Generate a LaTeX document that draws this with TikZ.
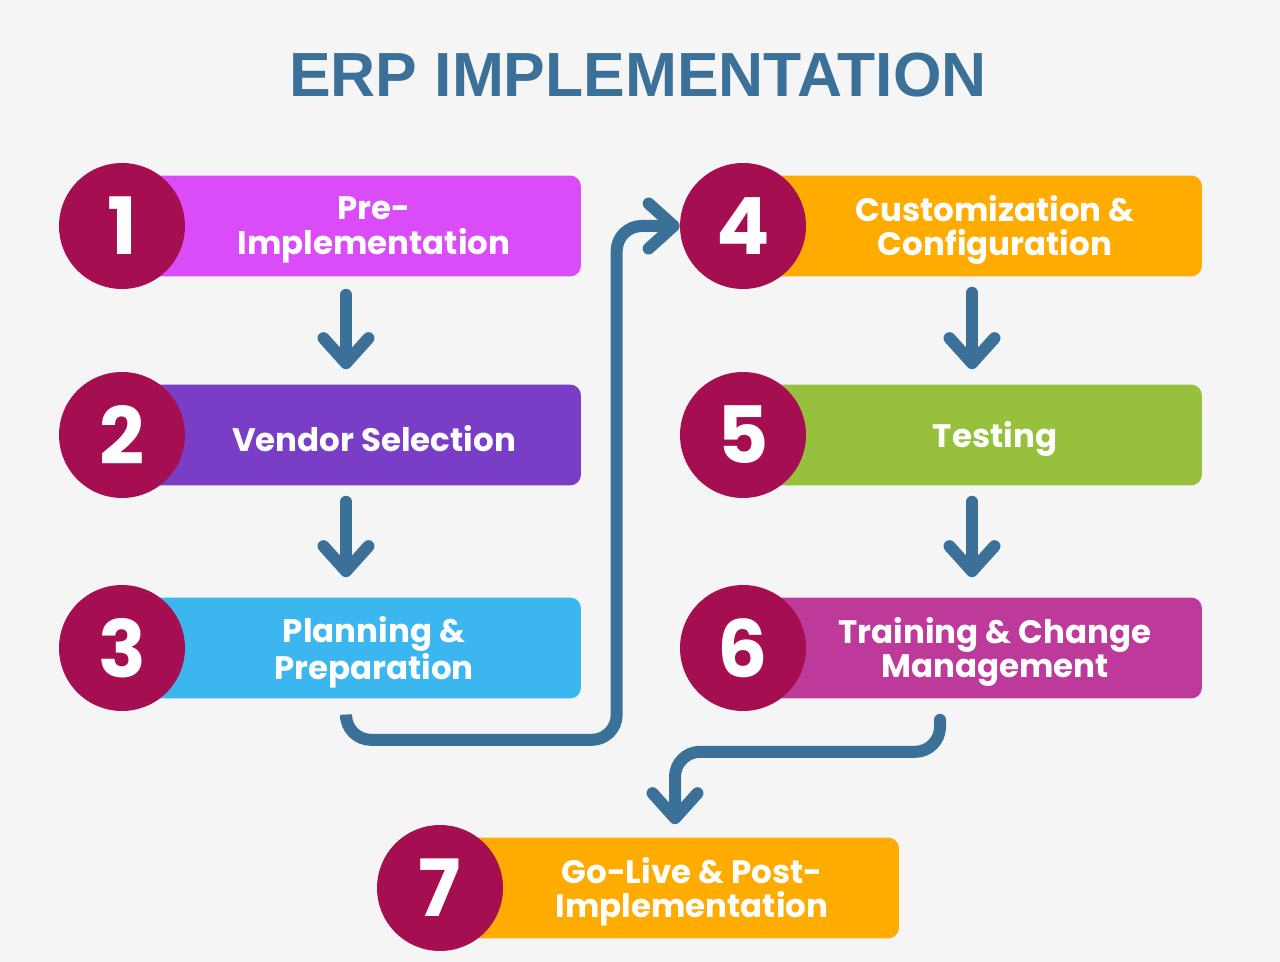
\documentclass[tikz,border=0pt]{standalone}
\usepackage{fontspec}
\setmainfont{Poppins}
\newfontfamily\titlefont{Liberation Sans}
\usetikzlibrary{arrows.meta}

\definecolor{bgc}{HTML}{F5F5F5}
\definecolor{titlec}{HTML}{3B7198}
\definecolor{flowc}{HTML}{3B7198}
\definecolor{numc}{HTML}{A50E50}
\definecolor{c1}{HTML}{DA4CF7}
\definecolor{c2}{HTML}{7A3EC6}
\definecolor{c3}{HTML}{3BB6EE}
\definecolor{c4}{HTML}{FFAB00}
\definecolor{c5}{HTML}{97C13C}
\definecolor{c6}{HTML}{BD3A9A}

\begin{document}
\begin{tikzpicture}[x=0.02cm, y=-0.02cm,
    stepbox/.style={rectangle, rounded corners=0.22cm, minimum width=8.8cm, minimum height=2.02cm},
    steptext/.style={text=white, align=center, xshift=0.26cm, yshift=-0.08cm,
        font=\bfseries\fontsize{18.5}{19.5}\selectfont},
    num/.style={circle, fill=numc, minimum size=2.52cm, inner sep=0pt, text=white,
        font=\bfseries\fontsize{45}{45}\selectfont},
    flow/.style={draw=flowc, line width=0.24cm, line cap=round, rounded corners=0.5cm,
        -{Straight Barb[length=0.5cm,width=0.9cm,round]}}]
    \fill[bgc] (0,0) rectangle (1280,962);
    \useasboundingbox (0,0) rectangle (1280,962);

    \node[text=titlec, font=\titlefont\bfseries\fontsize{35.5}{40}\selectfont] (title) at (638,75) {ERP IMPLEMENTATION};

    % boxes
    \node[stepbox, fill=c1, label={[steptext]center:{Pre-\\Implementation}}] (box1) at (361,226) {};
    \node[stepbox, fill=c2, label={[steptext]center:{Vendor Selection}}] (box2) at (361,435) {};
    \node[stepbox, fill=c3, label={[steptext]center:{Planning \&\\Preparation}}] (box3) at (361,648) {};
    \node[stepbox, fill=c4, label={[steptext]center:{Customization \&\\Configuration}}] (box4) at (982,226) {};
    \node[stepbox, fill=c5, label={[steptext]center:{Testing}}] (box5) at (982,435) {};
    \node[stepbox, fill=c6, label={[steptext]center:{Training \& Change\\Management}}] (box6) at (982,648) {};
    \node[stepbox, fill=c4, label={[steptext]center:{Go-Live \& Post-\\Implementation}}] (box7) at (679,888) {};

    % numbers
    \node[num] (num1) at (122,226) {1};
    \node[num] (num2) at (122,435) {2};
    \node[num] (num3) at (122,648) {3};
    \node[num] (num4) at (743,226) {4};
    \node[num] (num5) at (743,435) {5};
    \node[num] (num6) at (743,648) {6};
    \node[num] (num7) at (440,888) {7};

    % connectors
    \draw[flow, shorten <=0.36cm, shorten >=0.3cm] ([xshift=-0.3cm]box1.south) -- ([xshift=-0.3cm]box2.north);
    \draw[flow, shorten <=0.32cm, shorten >=0.4cm] ([xshift=-0.3cm]box2.south) -- ([xshift=-0.3cm]box3.north);
    \draw[flow, shorten <=0.32cm, shorten >=0.3cm] ([xshift=-0.2cm]box4.south) -- ([xshift=-0.2cm]box5.north);
    \draw[flow, shorten <=0.32cm, shorten >=0.4cm] ([xshift=-0.2cm]box5.south) -- ([xshift=-0.2cm]box6.north);
    \draw[flow] ([xshift=-0.3cm,yshift=-0.38cm]box3.south) -- ++(0,22) -| ([xshift=-1.26cm]num4.west) -- (num4.west);
    \draw[flow, shorten >=0.26cm] ([xshift=-0.84cm,yshift=-0.42cm]box6.south) -- ++(0,32) -| ([xshift=-0.08cm]box7.north);
\end{tikzpicture}
\end{document}
